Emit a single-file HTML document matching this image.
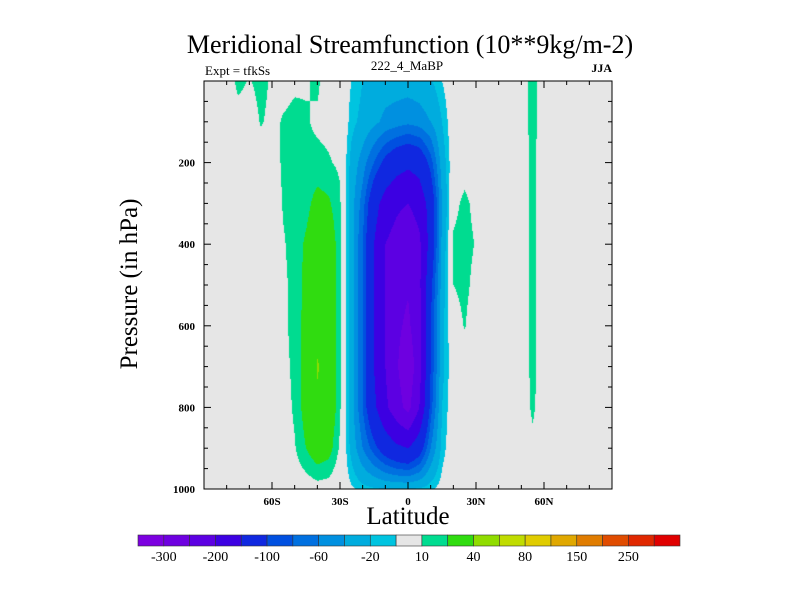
<!DOCTYPE html>
<html><head><meta charset="utf-8"><style>
body{margin:0;background:#fff;width:800px;height:600px;overflow:hidden;position:relative;font-family:"Liberation Serif",serif;}
.t{position:absolute;white-space:nowrap;color:#000;}
</style></head><body>
<div class="t" style="left:0;width:820px;text-align:center;top:30px;font-size:26px;">Meridional Streamfunction (10**9kg/m-2)</div>
<div class="t" style="left:205px;top:63px;font-size:13px;">Expt = tfkSs</div>
<div class="t" style="left:307px;width:200px;text-align:center;top:58px;font-size:13px;">222_4_MaBP</div>
<div class="t" style="left:560px;width:52px;text-align:right;top:61px;font-size:12px;font-weight:bold;">JJA</div>
<div class="t" style="left:308px;width:200px;text-align:center;top:503px;font-size:25px;">Latitude</div>
<div class="t" style="left:30px;width:200px;text-align:center;top:270px;font-size:25px;transform:rotate(-90deg);">Pressure (in hPa)</div>
<canvas id="cv" width="408" height="408" style="position:absolute;left:204px;top:81px;"></canvas>
<svg id="sv" width="800" height="600" style="position:absolute;left:0;top:0;"></svg>
<script>
const lats=[-90,-85,-80,-75,-70,-65,-60,-55,-50,-45,-40,-35,-30,-25,-20,-15,-10,-5,0,5,10,15,20,25,30,35,40,45,50,55,60,65,70,75,80,85,90];
const pressures=[0,100,200,300,400,500,600,700,800,900,1000];
// values[latIndex] = profile over pressures
const psiNeg90to60=[[0,0,0,0,0,0,0,0,0,0,0],[0,0,0,0,0,0,0,0,0,0,0],[0,0,0,0,0,0,0,0,0,0,0],
[14,3,0,0,0,0,0,0,0,0,0],[9,2,0,0,0,0,0,0,0,0,0],[14,11,3,0,0,0,0,0,0,0,0],[8,7,4,2,2,1,1,1,0,0,0]];
const psiNeg55to30=[[6,11,12,11,9,8,8,6,4,2,0],[8,13,14,14,14,13,13,13,12,9,2],[9,11,13,16,22,24,25,26,26,20,3],
[12,8,13,25,32,34,36,41,38,30,5],[3,7,11,22,30,32,33,35,34,26,4],[2,5,8,12,14,14,14,13,12,8,0]];
const psiNeg25to15=[[-10,-15,-25,-30,-30,-30,-30,-30,-30,-25,-8],[-20,-25,-50,-70,-80,-80,-80,-80,-80,-60,-14],
[-25,-35,-80,-130,-150,-150,-150,-150,-140,-90,-18],[-30,-45,-110,-170,-200,-200,-200,-200,-190,-120,-20],
[-30,-50,-130,-190,-220,-230,-240,-245,-230,-140,-20],[-30,-55,-140,-200,-240,-245,-260,-285,-265,-150,-20],
[-28,-50,-130,-180,-210,-210,-215,-220,-200,-120,-18],[-22,-40,-90,-130,-130,-110,-100,-100,-90,-60,-12],
[-10,-20,-30,-40,-35,-30,-25,-25,-20,-15,-5]];
const psi20to90=[[0,0,0,6,12,10,2,0,0,0,0],[0,0,4,13,15,14,11,0,0,0,0],[0,0,0,6,9,5,0,0,0,0,0],
[0,0,0,0,0,0,0,0,0,0,0],[0,0,0,0,0,0,0,0,0,0,0],[0,0,0,0,0,0,0,0,0,0,0],[5,4,3,3,3,3,3,3,3,2,0],
[14,14,13,13,13,13,13,13,12,7,0],[3,3,3,3,3,3,3,3,3,1,0],
[0,0,0,0,0,0,0,0,0,0,0],[0,0,0,0,0,0,0,0,0,0,0],[0,0,0,0,0,0,0,0,0,0,0],[0,0,0,0,0,0,0,0,0,0,0],[0,0,0,0,0,0,0,0,0,0,0],[0,0,0,0,0,0,0,0,0,0,0]];
const values=psiNeg90to60.concat(psiNeg55to30,psiNeg25to15,psi20to90);
const levels=[-300,-250,-200,-150,-100,-80,-60,-40,-20,-10,10,20,40,60,80,100,150,200,250,300];
const levelLabels=["-300","-200","-100","-60","-20","10","40","80","150","250"];
const colors=["#7c00e0","#6e00e0","#5c00e2","#3c00e2","#1028e0","#0050e0","#0070e0","#0090e0","#00acde","#00c4e0","#e6e6e6","#00dc90","#30dc10","#90dc00","#c0dc00","#e0cc00","#e0a800","#e07c00","#e04c00","#e02800","#e00000"];
const xTicks=[-60,-30,0,30,60];
const xTickLabels=["60S","30S","0","30N","60N"];
const yTicks=[200,400,600,800,1000];

const L=204,T=81,W=408,H=408;
const xs=lat=>L+(lat+90)/180*W;
const ys=p=>T+p/1000*H;
function colorIdx(v){let i=0;while(i<levels.length&&v>=levels[i])i++;return i;}
function sample(lat,p){
  let fi=(lat-lats[0])/5; fi=Math.max(0,Math.min(lats.length-1.0001,fi));
  let fj=p/100; fj=Math.max(0,Math.min(pressures.length-1.0001,fj));
  const i=Math.floor(fi),j=Math.floor(fj),a=fi-i,b=fj-j;
  const v00=values[i][j],v10=values[i+1][j],v01=values[i][j+1],v11=values[i+1][j+1];
  return (v00*(1-a)+v10*a)*(1-b)+(v01*(1-a)+v11*a)*b;
}
const cv=document.getElementById('cv'),ctx=cv.getContext('2d');
const img=ctx.createImageData(W,H);
const rgb=colors.map(c=>[parseInt(c.substr(1,2),16),parseInt(c.substr(3,2),16),parseInt(c.substr(5,2),16)]);
for(let y=0;y<H;y++)for(let x=0;x<W;x++){
  const lat=(x+0.5)/W*180-90,p=(y+0.5)/H*1000;
  const c=rgb[colorIdx(sample(lat,p))];const k=(y*W+x)*4;
  img.data[k]=c[0];img.data[k+1]=c[1];img.data[k+2]=c[2];img.data[k+3]=255;
}
ctx.putImageData(img,0,0);

const sv=document.getElementById('sv'),NS='http://www.w3.org/2000/svg';
function mk(tag,attrs,parent){const e=document.createElementNS(NS,tag);for(const k in attrs)e.setAttribute(k,attrs[k]);(parent||sv).appendChild(e);return e;}
const frame=mk('rect',{x:L,y:T,width:W,height:H,fill:'none',stroke:'#000','stroke-width':1});


for(let lat=-80;lat<=80;lat+=10){
  const major=xTicks.includes(lat),len=major?7:4,x=xs(lat);
  const t1=mk('line',{x1:x,x2:x,y1:T+H,y2:T+H-len,stroke:'#000'});
  
  
  const t2=mk('line',{x1:x,x2:x,y1:T,y2:T+len,stroke:'#000'});
  
  
}
xTicks.forEach((v,i)=>{
  const tx=mk('text',{x:xs(v),y:T+H+16,'text-anchor':'middle','font-size':11,'font-weight':'bold','font-family':'Liberation Serif, serif'});
  tx.textContent=xTickLabels[i];
  
  
});
for(let p=50;p<1000;p+=50){
  const major=yTicks.includes(p),len=major?7:4,y=ys(p);
  const t1=mk('line',{x1:L,x2:L+len,y1:y,y2:y,stroke:'#000'});
  
  
  const t2=mk('line',{x1:L+W,x2:L+W-len,y1:y,y2:y,stroke:'#000'});
  
  
}
yTicks.forEach(v=>{
  const tx=mk('text',{x:L-9,y:ys(v)+4,'text-anchor':'end','font-size':11,'font-weight':'bold','font-family':'Liberation Serif, serif'});
  tx.textContent=String(v);
  
  
});
// colorbar
const cbL=138,cbR=680,cbT=535,cbH=11,bw=(cbR-cbL)/colors.length;
colors.forEach((c,i)=>{
  const r=mk('rect',{x:cbL+i*bw,y:cbT,width:bw,height:cbH,fill:c,stroke:'#333','stroke-width':0.6});
  
  
});
levelLabels.forEach((s,i)=>{
  const tx=mk('text',{x:cbL+(2*i+1)*bw,y:cbT+cbH+15,'text-anchor':'middle','font-size':14,'font-family':'Liberation Serif, serif'});
  tx.textContent=s;
  
  
});
</script>
</body></html>
